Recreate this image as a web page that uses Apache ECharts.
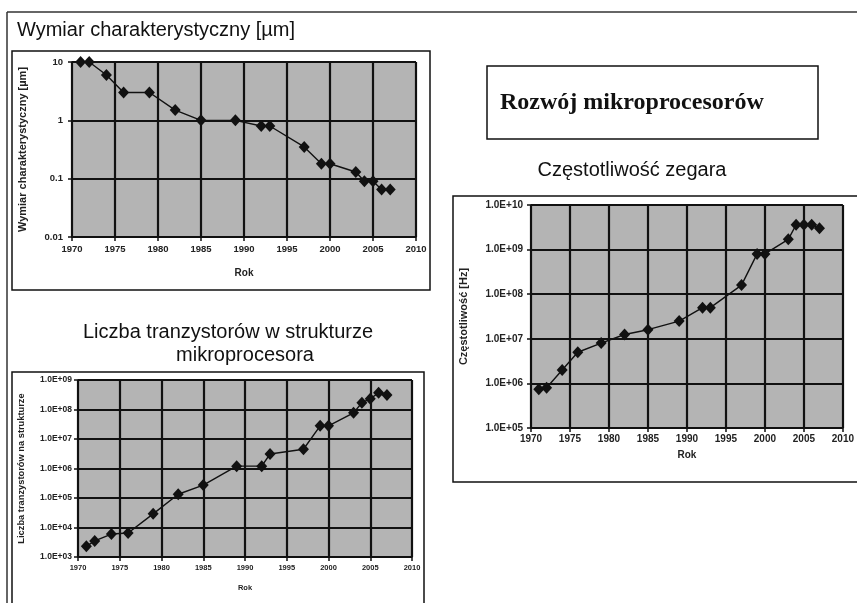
<!DOCTYPE html>
<html><head><meta charset="utf-8">
<script src="https://cdn.jsdelivr.net/npm/echarts@6/dist/echarts.min.js"></script>
<style>html,body{margin:0;padding:0;background:#fff}#c{width:857px;height:603px}</style>
</head><body><div id="c"></div>
<script>
// ---- data ----
const sizeYears = [1971,1972,1974,1976,1979,1982,1985,1989,1992,1993,1997,1999,2000,2003,2004,2005,2006,2007];
const sizeValues = [10,10,6,3,3,1.5,1,1,0.8,0.8,0.35,0.18,0.18,0.13,0.09,0.09,0.065,0.065];
const freqYears = [1971,1972,1974,1976,1979,1982,1985,1989,1992,1993,1997,1999,2000,2003,2004,2005,2006,2007];
const freqValues = [7.4e5,8e5,2e6,5e6,8e6,1.25e7,1.6e7,2.5e7,5e7,5e7,1.6e8,8e8,8e8,1.7e9,3.6e9,3.6e9,3.6e9,3e9];
const transYears = [1971,1972,1974,1976,1979,1982,1985,1989,1992,1993,1997,1999,2000,2003,2004,2005,2006,2007];
const transValues = [2.3e3,3.5e3,6e3,6.5e3,2.9e4,1.34e5,2.75e5,1.2e6,1.2e6,3.1e6,4.5e6,2.8e7,2.8e7,7.7e7,1.7e8,2.3e8,3.7e8,3.1e8];
const yearTicks = ['1970','1975','1980','1985','1990','1995','2000','2005','2010'];
const sizeTickLabels = ['0.01','0.1','1','10'];
const freqTickLabels = ['1.0E+05','1.0E+06','1.0E+07','1.0E+08','1.0E+09','1.0E+10'];
const transTickLabels = ['1.0E+03','1.0E+04','1.0E+05','1.0E+06','1.0E+07','1.0E+08','1.0E+09'];

const FONT = 'Liberation Sans, Arial, sans-serif';
const PLOT_BG = '#b4b4b4';

function xAxisCfg(gi, fs, margin, nameGap, nfs) {
  return {
    gridIndex: gi, type: 'value', min: 1970, max: 2010, interval: 5,
    name: 'Rok', nameLocation: 'middle', nameGap: nameGap,
    nameTextStyle: {fontFamily: FONT, fontWeight: 'bold', fontSize: nfs, color: '#222'},
    axisLine: {show: true, lineStyle: {color: '#111', width: 1.5}},
    axisTick: {show: true, length: 4, lineStyle: {color: '#111', width: 1.5}},
    axisLabel: {fontFamily: FONT, fontWeight: 'bold', fontSize: fs, color: '#222', margin: margin,
      formatter: v => yearTicks[Math.round((v - 1970) / 5)]},
    splitLine: {show: true, lineStyle: {color: '#111', width: 2.2}}
  };
}
function yAxisCfg(gi, name, minExp, maxExp, labels, fs, nfs, margin, nameGap) {
  return {
    gridIndex: gi, type: 'log', logBase: 10, min: Math.pow(10, minExp), max: Math.pow(10, maxExp), interval: 1,
    name: name, nameLocation: 'middle', nameGap: nameGap, nameRotate: 90,
    nameTextStyle: {fontFamily: FONT, fontWeight: 'bold', fontSize: nfs, color: '#222'},
    axisLine: {show: true, lineStyle: {color: '#111', width: 1.5}},
    axisTick: {show: true, length: 4, lineStyle: {color: '#111', width: 1.5}},
    axisLabel: {fontFamily: FONT, fontWeight: 'bold', fontSize: fs, color: '#222', margin: margin,
      formatter: v => labels[Math.round(Math.log10(v)) - minExp]},
    splitLine: {show: true, lineStyle: {color: '#111', width: 2.2}}
  };
}
function series(xi, xs, ys, sz) {
  return {
    type: 'line', xAxisIndex: xi, yAxisIndex: xi,
    data: xs.map((x, i) => [x, ys[i]]),
    symbol: 'diamond', symbolSize: sz,
    itemStyle: {color: '#111'}, lineStyle: {color: '#111', width: 1.4},
    animation: false, z: 5
  };
}

const chart = echarts.init(document.getElementById('c'), null, {renderer: 'canvas'});
chart.setOption({
  backgroundColor: '#fff',
  animation: false,
  grid: [
    {left: 72, top: 62, width: 344, height: 175, show: true, backgroundColor: PLOT_BG, borderColor: '#8a8a8a', borderWidth: 1},
    {left: 531, top: 205, width: 321, height: 223, show: true, backgroundColor: PLOT_BG, borderColor: '#8a8a8a', borderWidth: 1},
    {left: 78, top: 380, width: 334, height: 177, show: true, backgroundColor: PLOT_BG, borderColor: '#8a8a8a', borderWidth: 1}
  ],
  xAxis: [xAxisCfg(0, 9.5, 7, 31, 10), xAxisCfg(1, 10, 6, 22, 10), xAxisCfg(2, 7.5, 7, 27, 7.5)],
  yAxis: [
    yAxisCfg(0, 'Wymiar charakterystyczny [µm]', -2, 1, sizeTickLabels, 9.5, 11, 9, 44),
    yAxisCfg(1, 'Częstotliwość [Hz]', 5, 10, freqTickLabels, 10, 11, 8, 62),
    yAxisCfg(2, 'Liczba tranzystorów na strukturze', 3, 9, transTickLabels, 8.5, 9.3, 6, 52)
  ],
  series: [
    series(0, sizeYears, sizeValues, [11, 12]),
    series(1, freqYears, freqValues, [11, 12]),
    series(2, transYears, transValues, [11, 12])
  ],
  graphic: [
    // page frame
    {type: 'line', shape: {x1: 7, y1: 12, x2: 870, y2: 12}, style: {stroke: '#333', lineWidth: 1.5}},
    {type: 'line', shape: {x1: 7, y1: 12, x2: 7, y2: 620}, style: {stroke: '#333', lineWidth: 1.5}},
    // chart boxes
    {type: 'rect', shape: {x: 12, y: 51, width: 418, height: 239}, style: {fill: null, stroke: '#111', lineWidth: 1.5}},
    {type: 'rect', shape: {x: 12, y: 372, width: 412, height: 260}, style: {fill: null, stroke: '#111', lineWidth: 1.5}},
    {type: 'rect', shape: {x: 453, y: 196, width: 420, height: 286}, style: {fill: null, stroke: '#111', lineWidth: 1.5}},
    {type: 'rect', shape: {x: 487, y: 66, width: 331, height: 73}, style: {fill: null, stroke: '#111', lineWidth: 1.5}},
    // titles
    {type: 'text', x: 17, y: 30, style: {text: 'Wymiar charakterystyczny [µm]', font: '20px ' + FONT, fill: '#111', textVerticalAlign: 'middle'}},
    {type: 'text', x: 500, y: 103, style: {text: 'Rozwój mikroprocesorów', font: 'bold 24px "Liberation Serif", "Times New Roman", serif', fill: '#111', textVerticalAlign: 'middle'}},
    {type: 'text', x: 632, y: 170, style: {text: 'Częstotliwość zegara', font: '20px ' + FONT, fill: '#111', textAlign: 'center', textVerticalAlign: 'middle'}},
    {type: 'text', x: 228, y: 332, style: {text: 'Liczba tranzystorów w strukturze', font: '20px ' + FONT, fill: '#111', textAlign: 'center', textVerticalAlign: 'middle'}},
    {type: 'text', x: 245, y: 355, style: {text: 'mikroprocesora', font: '20px ' + FONT, fill: '#111', textAlign: 'center', textVerticalAlign: 'middle'}}
  ]
});
</script>
</body></html>
